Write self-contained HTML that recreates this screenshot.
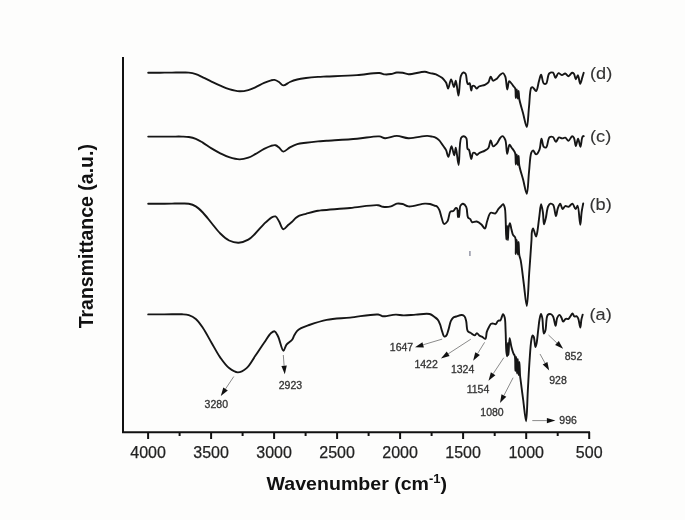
<!DOCTYPE html>
<html><head><meta charset="utf-8"><style>
html,body{margin:0;padding:0;background:#fdfdfc;}
svg{display:block;will-change:transform;}
.cv{fill:none;stroke:#161616;stroke-width:1.9;stroke-linejoin:round;stroke-linecap:round;}
.ax{stroke:#111;stroke-width:2;fill:none;}
.ash{stroke:#8a8a8a;stroke-width:1;}
.ahd{fill:#111;}
text{font-family:"Liberation Sans",sans-serif;}
.tl{font-size:16px;fill:#222;text-anchor:middle;stroke:#222;stroke-width:0.25px;}
.pk{font-size:10.5px;fill:#333;stroke:#333;stroke-width:0.3px;}
.sl{font-size:17px;fill:#333;stroke:#333;stroke-width:0.12px;}
.tt{font-size:18px;font-weight:bold;fill:#111;}
</style></head><body>
<svg width="685" height="520" viewBox="0 0 685 520">
<line x1="123" y1="57" x2="123" y2="433" class="ax"/>
<line x1="122" y1="432.2" x2="590" y2="432.2" class="ax"/>
<line x1="148.1" y1="432" x2="148.1" y2="439" class="ax"/><text x="148.1" y="457.5" class="tl">4000</text><line x1="211.1" y1="432" x2="211.1" y2="439" class="ax"/><text x="211.1" y="457.5" class="tl">3500</text><line x1="274.1" y1="432" x2="274.1" y2="439" class="ax"/><text x="274.1" y="457.5" class="tl">3000</text><line x1="337.1" y1="432" x2="337.1" y2="439" class="ax"/><text x="337.1" y="457.5" class="tl">2500</text><line x1="400.1" y1="432" x2="400.1" y2="439" class="ax"/><text x="400.1" y="457.5" class="tl">2000</text><line x1="463.1" y1="432" x2="463.1" y2="439" class="ax"/><text x="463.1" y="457.5" class="tl">1500</text><line x1="526.2" y1="432" x2="526.2" y2="439" class="ax"/><text x="526.2" y="457.5" class="tl">1000</text><line x1="589.2" y1="432" x2="589.2" y2="439" class="ax"/><text x="589.2" y="457.5" class="tl">500</text><line x1="179.6" y1="432" x2="179.6" y2="436" class="ax"/><line x1="242.6" y1="432" x2="242.6" y2="436" class="ax"/><line x1="305.6" y1="432" x2="305.6" y2="436" class="ax"/><line x1="368.6" y1="432" x2="368.6" y2="436" class="ax"/><line x1="431.6" y1="432" x2="431.6" y2="436" class="ax"/><line x1="494.7" y1="432" x2="494.7" y2="436" class="ax"/><line x1="557.7" y1="432" x2="557.7" y2="436" class="ax"/>
<path class="cv" d="M148.20,72.80 C152.13,72.77 156.05,72.73 160.00,72.70 C163.98,72.67 168.18,72.63 172.00,72.60 C175.49,72.57 178.99,72.49 182.00,72.50 C184.48,72.51 186.53,72.34 188.80,72.60 C191.13,72.86 193.51,73.34 195.80,74.10 C198.18,74.89 200.35,76.13 202.80,77.30 C205.55,78.61 208.58,80.20 211.50,81.60 C214.42,83.00 217.35,84.43 220.30,85.70 C223.22,86.96 225.99,88.28 229.10,89.20 C232.40,90.18 236.26,91.20 239.60,91.30 C242.63,91.39 245.60,90.80 248.30,90.10 C250.80,89.45 252.86,88.49 255.30,87.40 C258.10,86.15 261.30,84.13 264.10,82.90 C266.53,81.83 269.16,80.77 271.10,80.30 C272.41,79.98 273.32,79.71 274.50,79.90 C275.93,80.13 277.57,81.12 279.00,82.00 C280.51,82.93 281.66,85.24 283.30,85.40 C285.21,85.59 287.61,82.98 289.90,82.00 C292.24,81.00 294.63,80.16 297.20,79.50 C299.97,78.79 302.83,78.41 306.00,78.00 C309.68,77.52 314.32,77.15 318.00,76.90 C321.13,76.68 322.92,76.67 326.70,76.50 C333.75,76.18 347.68,75.75 357.00,75.10 C365.01,74.54 374.33,72.63 379.30,73.00 C381.85,73.19 383.06,74.23 385.00,74.40 C386.96,74.57 389.03,74.32 391.00,74.00 C392.96,73.68 394.84,72.70 396.80,72.50 C398.74,72.30 400.75,72.52 402.70,72.80 C404.65,73.08 406.06,74.09 408.50,74.20 C412.56,74.39 421.00,71.60 424.90,71.80 C427.10,71.91 428.23,72.70 430.00,73.10 C431.91,73.53 434.38,73.70 436.00,74.30 C437.21,74.75 438.00,75.42 439.00,76.00 C440.00,76.59 441.09,77.06 442.00,77.80 C442.93,78.56 443.76,79.59 444.50,80.50 C445.18,81.33 445.77,81.95 446.30,83.00 C447.03,84.45 447.42,88.60 448.10,88.60 C448.97,88.60 450.07,79.53 451.10,79.50 C452.04,79.48 453.19,87.04 454.00,87.00 C454.73,86.97 455.20,80.77 455.80,80.80 C456.71,80.85 457.70,95.62 458.50,95.60 C459.43,95.57 459.43,79.53 460.90,75.80 C461.56,74.11 462.42,72.69 463.30,72.50 C464.01,72.35 465.02,72.97 465.60,73.80 C466.63,75.25 466.46,79.93 467.00,81.80 C467.31,82.86 467.51,84.04 468.00,84.20 C468.42,84.33 469.15,83.01 469.60,83.20 C470.50,83.57 470.77,90.59 471.30,90.60 C471.72,90.61 471.73,86.59 472.50,86.00 C472.99,85.62 473.80,85.73 474.40,86.00 C475.19,86.36 475.82,88.44 476.60,88.50 C477.36,88.56 477.95,87.06 479.00,86.50 C480.47,85.72 483.24,85.58 484.90,84.80 C486.28,84.15 487.47,83.56 488.40,82.40 C489.52,80.99 489.85,76.66 490.70,76.60 C491.44,76.54 492.05,80.39 493.10,80.70 C494.06,80.98 495.51,79.75 496.60,78.90 C497.87,77.91 498.91,75.91 500.10,74.90 C501.05,74.09 502.16,72.92 503.00,73.10 C503.93,73.30 504.67,74.97 505.30,76.60 C506.41,79.47 506.57,89.47 507.30,89.50 C507.89,89.52 508.19,81.49 509.20,81.20 C509.82,81.02 510.77,82.65 511.50,83.50 C512.28,84.41 513.03,85.60 513.70,86.50 C514.25,87.24 514.83,87.51 515.20,88.50 C515.91,90.43 515.52,97.99 515.80,98.00 C516.06,98.01 516.47,89.50 516.80,89.50 C517.14,89.50 517.49,98.50 517.80,98.50 C518.08,98.50 518.35,91.00 518.60,91.00 C518.85,91.00 518.77,95.99 519.30,99.00 C520.01,103.04 521.75,108.34 523.00,113.00 C524.25,117.67 525.83,127.08 526.80,127.00 C527.94,126.91 528.24,113.61 529.00,107.00 C529.74,100.51 529.75,89.49 531.30,87.70 C531.74,87.20 532.26,87.14 532.80,87.30 C533.77,87.59 535.18,91.21 536.10,91.00 C537.44,90.70 538.08,83.93 539.00,81.00 C539.73,78.68 540.37,74.79 541.10,74.80 C541.96,74.81 542.46,82.52 543.80,83.50 C544.49,84.00 545.50,84.02 546.20,83.50 C547.65,82.42 547.52,75.04 549.20,73.50 C550.24,72.55 552.10,72.19 553.10,72.70 C554.29,73.31 554.50,77.72 555.40,77.80 C556.30,77.88 557.28,73.50 558.50,73.20 C559.53,72.95 560.85,75.08 562.00,75.10 C563.09,75.12 564.16,73.38 565.20,73.50 C566.33,73.63 567.39,76.24 568.50,76.20 C569.69,76.16 571.05,72.92 572.10,72.80 C572.80,72.72 573.47,73.25 574.00,73.90 C574.85,74.94 575.10,79.14 575.80,79.20 C576.42,79.25 577.26,75.23 577.90,75.30 C578.80,75.40 579.42,83.78 580.20,83.80 C580.89,83.82 581.68,79.36 582.30,77.40 C582.82,75.74 583.23,74.33 583.70,72.80"/>
<path class="cv" d="M148.20,136.60 C152.13,136.60 156.05,136.60 160.00,136.60 C163.98,136.60 168.18,136.60 172.00,136.60 C175.49,136.60 178.99,136.51 182.00,136.60 C184.49,136.67 186.53,136.65 188.80,137.00 C191.13,137.37 193.52,137.90 195.80,138.80 C198.19,139.74 200.37,141.14 202.80,142.60 C205.58,144.28 208.56,146.60 211.50,148.40 C214.39,150.16 217.33,151.82 220.30,153.30 C223.20,154.75 225.98,156.19 229.10,157.20 C232.39,158.26 236.26,159.38 239.60,159.40 C242.63,159.42 245.61,158.61 248.30,157.70 C250.82,156.84 252.86,155.54 255.30,154.20 C258.09,152.66 261.29,150.36 264.10,148.90 C266.53,147.64 269.00,146.40 271.10,145.80 C272.70,145.35 274.17,144.90 275.50,145.20 C276.79,145.49 277.82,146.56 279.00,147.50 C280.41,148.62 281.64,151.44 283.30,151.60 C285.20,151.79 287.60,148.64 289.90,147.40 C292.23,146.14 294.60,144.88 297.20,144.10 C299.94,143.28 302.83,143.12 306.00,142.70 C309.68,142.21 314.32,141.73 318.00,141.40 C321.13,141.12 322.92,141.06 326.70,140.80 C333.76,140.31 347.77,139.51 357.10,138.70 C365.09,138.01 374.33,135.91 379.30,136.40 C381.89,136.66 382.81,138.08 385.10,138.20 C388.31,138.37 392.90,135.90 396.80,135.90 C400.70,135.90 404.13,138.04 408.50,138.20 C413.99,138.40 423.01,135.85 427.20,135.90 C429.33,135.92 430.48,136.26 432.00,136.60 C433.41,136.91 434.82,137.18 436.00,137.80 C437.14,138.40 438.05,139.24 439.00,140.20 C440.07,141.29 441.09,142.85 442.00,144.10 C442.81,145.21 443.50,146.26 444.20,147.30 C444.86,148.29 445.51,148.99 446.10,150.20 C446.95,151.93 447.61,156.92 448.40,156.90 C449.39,156.88 450.50,146.20 451.50,146.20 C452.43,146.20 453.46,155.33 454.20,155.30 C454.86,155.27 455.23,147.79 455.80,147.80 C456.66,147.82 457.77,165.03 458.60,165.00 C459.63,164.97 459.00,141.27 461.20,137.80 C461.95,136.62 463.05,136.14 463.90,136.20 C464.74,136.26 465.70,137.02 466.30,138.10 C467.44,140.13 466.64,147.28 467.60,148.90 C467.98,149.55 468.57,149.28 469.00,149.90 C469.99,151.35 470.58,158.99 471.30,159.00 C471.90,159.01 472.09,153.59 473.00,152.90 C473.47,152.54 474.13,152.68 474.70,152.90 C475.47,153.20 476.25,154.99 477.00,155.00 C477.68,155.01 478.11,153.87 479.00,153.30 C480.41,152.41 483.23,151.59 484.90,150.60 C486.27,149.79 487.49,149.30 488.40,148.00 C489.63,146.25 489.87,140.44 490.70,140.40 C491.45,140.37 491.95,145.96 493.10,146.30 C494.04,146.58 495.54,145.02 496.60,143.90 C497.94,142.48 498.95,139.47 500.10,138.10 C500.87,137.18 501.63,136.02 502.40,136.10 C503.36,136.20 504.55,138.10 505.30,139.90 C506.58,142.98 506.40,153.76 507.20,153.80 C507.86,153.84 508.53,144.78 509.50,144.60 C510.09,144.49 510.81,146.54 511.50,147.50 C512.21,148.47 513.08,149.38 513.70,150.40 C514.31,151.39 514.84,152.10 515.20,153.50 C515.85,156.00 515.52,164.49 515.80,164.50 C516.06,164.51 516.47,154.50 516.80,154.50 C517.14,154.50 517.49,165.00 517.80,165.00 C518.09,165.00 518.35,156.00 518.60,156.00 C518.85,156.00 518.71,162.05 519.30,165.50 C520.03,169.77 521.85,174.89 523.10,179.60 C524.35,184.32 525.85,193.87 526.80,193.80 C527.96,193.71 528.23,179.04 529.00,172.00 C529.73,165.37 529.97,155.92 531.30,152.70 C531.82,151.45 532.44,150.39 533.10,150.40 C533.96,150.42 534.99,154.40 536.00,154.40 C537.09,154.40 538.53,151.79 539.40,149.80 C540.62,147.02 540.70,138.84 541.50,138.80 C542.19,138.77 542.57,145.75 543.80,146.90 C544.46,147.52 545.49,147.81 546.20,147.40 C547.68,146.54 547.83,138.63 549.50,137.30 C550.45,136.55 551.92,136.51 552.90,137.00 C554.16,137.63 554.87,141.77 555.90,141.80 C556.90,141.83 557.81,137.79 559.00,137.40 C559.91,137.10 560.98,138.35 562.00,138.40 C563.04,138.46 564.19,137.43 565.20,137.70 C566.38,138.01 567.42,140.78 568.50,140.70 C569.72,140.61 571.05,136.40 572.10,136.30 C572.80,136.24 573.47,137.03 574.00,137.90 C574.96,139.48 575.10,145.97 575.80,146.00 C576.47,146.03 577.35,138.79 578.10,138.80 C578.88,138.81 579.70,146.73 580.40,146.70 C581.18,146.67 581.52,138.15 582.50,136.80 C582.86,136.30 583.30,136.33 583.70,136.10"/>
<path class="cv" d="M148.20,203.80 C152.13,203.80 156.05,203.83 160.00,203.80 C163.98,203.77 168.18,203.65 172.00,203.60 C175.49,203.55 178.99,203.45 182.00,203.50 C184.49,203.54 186.55,203.34 188.80,203.80 C191.15,204.28 193.58,205.08 195.80,206.40 C198.27,207.87 200.44,210.08 202.80,212.50 C205.66,215.43 208.59,219.50 211.50,223.00 C214.42,226.50 217.21,230.49 220.30,233.50 C223.10,236.23 225.92,238.97 229.10,240.50 C232.08,241.93 235.52,242.82 238.70,242.70 C241.92,242.58 245.50,241.28 248.30,239.70 C251.00,238.17 252.90,235.86 255.30,233.50 C258.14,230.71 261.26,226.67 264.10,223.90 C266.50,221.56 268.92,219.03 271.10,217.80 C272.64,216.93 274.24,215.98 275.50,216.40 C276.94,216.88 277.83,219.43 279.00,221.30 C280.43,223.58 281.59,228.90 283.30,229.20 C284.79,229.46 286.75,226.10 288.40,224.70 C289.91,223.42 291.52,222.28 292.80,221.10 C293.90,220.09 294.62,219.00 295.70,218.10 C296.81,217.16 297.92,216.28 299.40,215.60 C301.23,214.76 303.47,214.46 306.00,213.80 C309.40,212.91 315.04,211.35 318.00,210.80 C319.71,210.48 320.12,210.50 322.10,210.30 C327.26,209.77 340.77,208.85 350.10,208.00 C359.44,207.15 372.71,204.58 378.10,205.20 C380.36,205.46 380.99,206.55 382.80,206.80 C385.13,207.13 388.56,207.02 391.00,206.40 C393.16,205.85 394.81,203.99 396.80,203.60 C398.71,203.23 400.78,203.55 402.70,204.00 C404.68,204.46 406.02,206.12 408.50,206.40 C412.53,206.85 420.98,203.78 424.90,203.60 C427.07,203.50 428.30,203.64 430.00,204.00 C431.80,204.38 434.13,205.48 435.40,205.90 C436.09,206.13 436.49,206.01 437.00,206.40 C437.81,207.01 438.62,208.43 439.30,209.90 C440.27,211.99 440.85,215.53 441.70,218.00 C442.43,220.14 442.88,223.58 444.00,223.90 C444.93,224.17 446.54,222.66 447.50,221.30 C448.96,219.22 448.88,212.98 450.40,211.60 C451.23,210.84 452.53,211.53 453.40,211.00 C454.40,210.40 455.16,208.01 455.90,207.90 C456.37,207.83 456.87,208.22 457.20,208.80 C457.97,210.13 457.65,217.20 457.90,217.20 C458.12,217.20 458.40,211.00 458.60,211.00 C458.80,211.00 458.88,217.00 459.10,217.00 C459.40,217.00 459.52,207.97 460.30,206.00 C460.63,205.16 461.02,204.77 461.50,204.40 C461.93,204.07 462.45,203.69 463.00,203.80 C463.92,203.98 465.40,205.38 466.20,206.90 C467.44,209.24 466.83,215.45 468.00,217.40 C468.61,218.42 469.65,218.45 470.30,219.20 C471.00,220.00 471.09,221.65 472.00,222.10 C473.08,222.63 475.19,221.16 476.70,221.50 C478.34,221.87 480.02,223.31 481.40,224.50 C482.75,225.66 483.98,228.70 484.90,228.50 C486.02,228.26 486.27,223.53 487.20,221.00 C488.19,218.30 488.97,213.79 490.70,212.80 C491.96,212.08 494.13,213.98 495.40,213.40 C496.78,212.78 497.48,210.03 498.50,208.80 C499.28,207.86 500.03,207.27 500.80,206.50 C501.57,205.73 502.45,204.09 503.10,204.20 C503.81,204.32 504.39,206.18 504.80,207.70 C505.47,210.18 505.38,213.94 505.60,218.00 C505.92,223.86 505.99,239.49 506.30,239.50 C506.55,239.50 506.94,226.00 507.20,226.00 C507.47,226.00 507.66,240.00 507.90,240.00 C508.13,240.00 508.10,231.08 508.60,228.00 C508.92,226.02 509.45,223.20 509.90,223.20 C510.42,223.21 510.96,227.57 511.50,229.60 C511.99,231.45 512.26,233.51 513.00,234.90 C513.58,236.00 514.67,236.12 515.20,237.50 C516.37,240.53 515.52,254.00 515.80,254.00 C516.06,254.00 516.47,240.00 516.80,240.00 C517.14,240.00 517.49,254.50 517.80,254.50 C518.09,254.50 518.35,242.00 518.60,242.00 C518.85,242.00 518.78,251.62 519.30,255.00 C519.64,257.21 520.22,257.96 520.70,260.40 C521.66,265.33 522.69,275.43 523.70,283.00 C524.72,290.63 525.93,306.03 526.80,306.00 C527.84,305.97 528.42,284.00 529.20,273.00 C529.98,262.00 531.07,247.29 531.50,240.00 C531.71,236.39 531.49,234.00 531.90,231.90 C532.18,230.50 532.61,228.50 533.10,228.50 C533.85,228.50 535.28,236.51 536.00,236.50 C536.47,236.49 536.74,234.69 537.10,233.10 C537.90,229.58 538.67,220.98 539.40,215.80 C539.99,211.57 540.45,204.32 541.10,204.30 C541.64,204.28 542.43,209.34 542.90,212.30 C543.47,215.90 543.37,224.34 544.00,224.40 C544.46,224.44 545.21,220.53 545.80,218.10 C546.59,214.83 546.94,208.96 548.10,206.50 C548.74,205.14 549.50,203.92 550.40,203.70 C551.22,203.50 552.43,203.99 553.20,204.90 C554.70,206.67 555.07,216.00 555.90,216.00 C556.58,216.00 556.98,210.59 557.80,208.40 C558.47,206.60 559.42,203.68 560.20,203.70 C561.02,203.72 561.66,208.96 562.60,209.10 C563.37,209.21 564.16,206.45 565.20,206.10 C566.16,205.78 567.41,207.05 568.50,206.80 C569.82,206.50 571.25,203.59 572.40,203.80 C573.69,204.03 574.76,209.12 575.70,209.10 C576.43,209.09 577.04,205.69 577.60,205.80 C578.86,206.04 579.60,224.81 580.30,224.80 C580.87,224.79 581.06,216.09 581.60,212.30 C582.06,209.10 582.67,206.43 583.20,203.50"/>
<path class="cv" d="M148.20,314.40 C152.13,314.40 156.05,314.42 160.00,314.40 C163.98,314.38 168.18,314.32 172.00,314.30 C175.49,314.29 178.99,314.10 182.00,314.30 C184.49,314.46 186.58,314.48 188.80,315.20 C191.19,315.98 193.64,317.18 195.80,319.00 C198.37,321.16 200.46,324.39 202.80,327.80 C205.69,332.03 208.59,337.74 211.50,342.70 C214.42,347.67 217.17,353.18 220.30,357.60 C223.08,361.53 225.89,365.58 229.10,368.10 C231.80,370.22 234.89,372.39 237.80,372.40 C240.72,372.41 243.93,370.37 246.60,368.10 C249.91,365.29 252.42,359.98 255.30,355.80 C258.25,351.52 261.30,346.72 264.10,342.70 C266.54,339.20 268.95,334.81 271.10,333.00 C272.33,331.97 273.54,331.02 274.60,331.30 C275.94,331.66 276.95,334.25 278.10,336.50 C279.90,340.01 281.77,350.71 283.40,350.80 C284.50,350.86 285.08,346.44 286.50,344.60 C288.00,342.65 290.99,341.25 292.30,339.50 C293.30,338.16 293.44,336.78 294.20,335.40 C295.04,333.88 295.99,332.04 297.20,330.80 C298.32,329.65 299.56,328.92 301.10,328.10 C303.02,327.08 305.11,326.39 308.00,325.40 C312.69,323.80 320.05,321.19 326.70,319.90 C334.00,318.48 341.95,318.45 350.10,317.60 C359.02,316.67 372.72,313.86 378.10,314.50 C380.37,314.77 381.51,315.97 382.80,316.20 C383.66,316.35 383.99,316.27 385.00,316.20 C387.24,316.03 392.50,314.67 395.80,314.60 C398.58,314.54 400.63,315.34 403.50,315.40 C407.12,315.47 411.58,314.83 415.80,314.60 C420.27,314.36 426.23,313.15 429.60,314.00 C431.79,314.55 433.17,315.98 434.60,317.00 C435.79,317.85 436.83,318.50 437.70,319.60 C438.68,320.84 439.30,322.44 440.00,324.20 C440.87,326.41 441.51,329.68 442.30,331.90 C442.92,333.65 443.33,336.11 444.20,336.50 C444.77,336.75 445.62,336.37 446.20,335.80 C447.23,334.79 447.78,331.84 448.50,329.60 C449.33,327.03 449.83,323.34 450.80,321.20 C451.47,319.72 452.13,318.49 453.10,317.70 C453.97,317.00 455.00,316.89 456.20,316.50 C457.80,315.98 460.38,314.81 461.90,315.00 C463.00,315.14 463.91,315.68 464.60,316.50 C465.47,317.55 465.74,319.32 466.20,321.20 C466.85,323.85 466.50,329.15 467.70,331.00 C468.40,332.07 469.48,332.15 470.50,332.80 C471.74,333.59 473.47,335.52 474.60,335.40 C475.53,335.30 476.13,333.10 476.90,333.10 C477.67,333.10 478.32,334.77 479.20,335.40 C480.11,336.05 481.28,336.33 482.30,336.90 C483.35,337.49 484.66,339.21 485.40,338.90 C486.43,338.46 486.13,333.99 486.80,331.90 C487.38,330.09 488.21,328.43 489.00,327.00 C489.66,325.79 490.23,324.32 491.10,323.80 C491.79,323.39 492.72,323.53 493.50,323.60 C494.26,323.67 495.07,324.44 495.70,324.20 C496.45,323.92 496.95,322.14 497.50,321.50 C497.85,321.09 498.08,320.79 498.50,320.60 C498.99,320.38 499.80,320.76 500.30,320.40 C501.01,319.88 501.33,318.08 501.80,317.00 C502.23,316.02 502.55,314.22 503.00,314.20 C503.50,314.18 504.27,315.97 504.70,317.50 C505.51,320.43 505.34,326.00 505.60,331.00 C505.93,337.23 505.92,347.61 506.40,352.00 C506.62,354.02 506.98,356.41 507.20,356.40 C507.58,356.38 507.68,343.00 507.90,343.00 C508.11,343.00 508.25,355.00 508.50,355.00 C508.80,355.00 508.95,338.25 509.60,338.20 C510.08,338.17 510.78,344.56 511.50,347.30 C512.11,349.61 512.83,352.02 513.50,353.60 C513.93,354.61 514.47,354.80 514.80,356.00 C515.57,358.81 515.16,371.00 515.40,371.00 C515.63,371.00 515.94,357.00 516.20,357.00 C516.48,357.00 516.72,373.50 517.00,373.50 C517.26,373.50 517.54,359.00 517.80,359.00 C518.07,359.00 518.32,375.00 518.60,375.00 C518.85,375.00 519.15,362.00 519.40,362.00 C519.66,362.00 519.82,372.75 520.10,376.00 C520.25,377.74 520.37,378.16 520.60,380.00 C521.13,384.12 522.30,393.24 523.20,400.00 C524.13,406.97 525.36,421.23 526.10,421.20 C526.98,421.16 527.22,401.13 527.80,391.00 C528.39,380.73 528.94,369.15 529.60,360.00 C530.13,352.72 530.54,344.73 531.30,340.40 C531.68,338.20 532.03,335.62 532.60,335.50 C532.95,335.43 533.45,336.21 533.80,337.00 C534.60,338.81 534.80,346.95 535.40,347.00 C535.75,347.03 536.16,345.26 536.50,343.80 C537.18,340.83 537.66,334.34 538.20,330.00 C538.69,326.13 539.01,321.94 539.60,319.00 C540.01,316.99 540.53,314.01 541.00,314.00 C541.43,313.99 541.93,316.27 542.30,318.10 C543.01,321.57 542.88,333.32 543.80,333.50 C544.24,333.58 544.92,331.88 545.40,330.40 C546.41,327.27 545.89,317.01 547.70,315.00 C548.52,314.09 549.90,313.96 550.80,314.20 C551.70,314.45 552.44,315.35 553.10,316.50 C554.24,318.47 554.90,325.82 555.60,325.80 C556.25,325.78 556.28,319.73 557.20,317.80 C557.82,316.49 558.87,314.86 559.60,314.90 C560.30,314.94 560.94,316.74 561.50,317.80 C562.12,318.96 562.36,321.46 563.10,321.60 C563.81,321.74 564.81,319.31 565.80,318.90 C566.63,318.55 567.74,319.29 568.50,318.90 C569.38,318.45 569.91,316.93 570.60,316.00 C571.24,315.13 571.88,313.47 572.50,313.50 C573.15,313.53 573.61,316.14 574.40,316.50 C575.01,316.78 575.90,315.95 576.50,316.20 C577.19,316.48 577.70,317.34 578.20,318.40 C579.12,320.34 579.76,327.52 580.30,327.50 C580.80,327.48 580.93,321.83 581.40,319.50 C581.77,317.65 582.27,316.23 582.70,314.60"/>
<rect x="469.1" y="251" width="1.6" height="5" fill="#9a9cab"/>
<line x1="233.8" y1="376.5" x2="225.5" y2="388.9" class="ash"/><polygon points="220.8,396.0 223.3,387.4 227.8,390.4" class="ahd"/><line x1="283.3" y1="355.0" x2="284.1" y2="365.7" class="ash"/><polygon points="284.8,374.2 281.4,365.9 286.8,365.5" class="ahd"/><line x1="442.2" y1="339.1" x2="423.1" y2="344.8" class="ash"/><polygon points="415.0,347.3 422.4,342.3 423.9,347.4" class="ahd"/><line x1="470.8" y1="339.2" x2="448.1" y2="353.9" class="ash"/><polygon points="441.0,358.5 446.7,351.6 449.6,356.1" class="ahd"/><line x1="484.6" y1="342.3" x2="477.6" y2="353.6" class="ash"/><polygon points="473.1,360.8 475.3,352.2 479.9,355.0" class="ahd"/><line x1="503.8" y1="357.7" x2="493.2" y2="373.7" class="ash"/><polygon points="488.5,380.8 490.9,372.2 495.4,375.2" class="ahd"/><line x1="513.1" y1="377.7" x2="503.9" y2="395.5" class="ash"/><polygon points="500.0,403.1 501.5,394.3 506.3,396.8" class="ahd"/><line x1="532.3" y1="420.6" x2="546.9" y2="420.6" class="ash"/><polygon points="555.4,420.6 546.9,423.3 546.9,417.9" class="ahd"/><line x1="540.0" y1="354.0" x2="545.1" y2="363.2" class="ash"/><polygon points="549.2,370.6 542.7,364.5 547.4,361.9" class="ahd"/><line x1="548.5" y1="335.0" x2="556.9" y2="343.0" class="ash"/><polygon points="563.1,348.8 555.1,344.9 558.8,341.0" class="ahd"/>
<text x="216.3" y="408.0" class="pk" text-anchor="middle">3280</text><text x="290.4" y="388.5" class="pk" text-anchor="middle">2923</text><text x="401.5" y="351.3" class="pk" text-anchor="middle">1647</text><text x="426.1" y="367.5" class="pk" text-anchor="middle">1422</text><text x="462.6" y="372.8" class="pk" text-anchor="middle">1324</text><text x="478.0" y="393.0" class="pk" text-anchor="middle">1154</text><text x="492.0" y="416.0" class="pk" text-anchor="middle">1080</text><text x="568.1" y="423.6" class="pk" text-anchor="middle">996</text><text x="558.0" y="383.6" class="pk" text-anchor="middle">928</text><text x="573.5" y="360.3" class="pk" text-anchor="middle">852</text>
<text transform="translate(590,79.2) scale(1.07,1)" class="sl">(d)</text>
<text transform="translate(590,141.9) scale(1.07,1)" class="sl">(c)</text>
<text transform="translate(589.5,209.9) scale(1.07,1)" class="sl">(b)</text>
<text transform="translate(589.5,319.7) scale(1.07,1)" class="sl">(a)</text>
<text transform="translate(266.6,490.2) scale(1.088,1)" class="tt">Wavenumber (cm<tspan font-size="12" dy="-7">-1</tspan><tspan dy="7">)</tspan></text>
<text transform="translate(93.2,236.2) rotate(-90)" class="tt" style="font-size:19.5px" text-anchor="middle">Transmittance (a.u.)</text>
</svg>
</body></html>
